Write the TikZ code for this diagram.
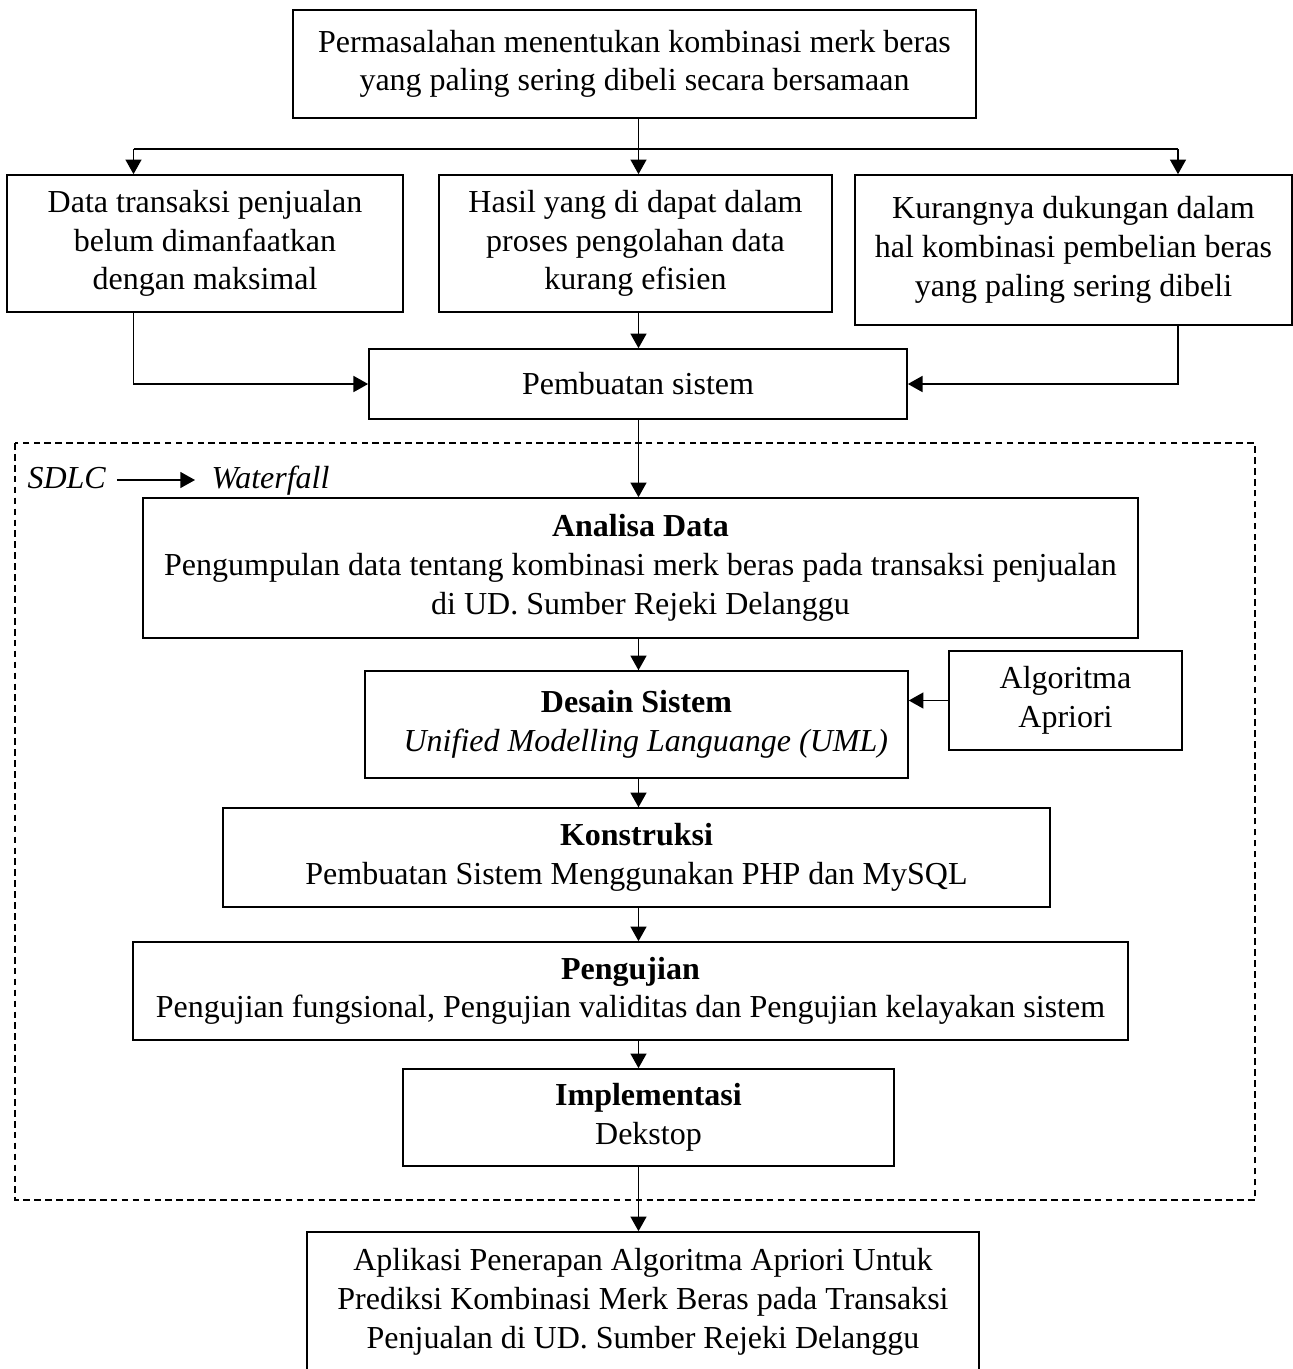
\documentclass[tikz,border=0pt]{standalone}
\usepackage{fontspec}
\setmainfont{Liberation Serif}
\usepackage{tikz}
\usetikzlibrary{arrows.meta, positioning, calc}

\tikzset{
    box/.style={draw, line width=0.6pt, align=center, inner sep=0pt,
        font=\fontsize{12}{14.5}\selectfont},
    arr/.style={-{Triangle[length=5.5pt,width=6pt]}, line width=0.6pt},
    lbl/.style={inner sep=0pt, font=\fontsize{12}{14.5}\selectfont\itshape},
}

\begin{document}
\begin{tikzpicture}[x=0.375pt, y=-0.375pt]
    \useasboundingbox (0,0) rectangle (1293,1369);

    % Problem
    \node[box, minimum width=256.1pt, minimum height=40.5pt] (masalah) at (634.5,64)
        {Permasalahan menentukan kombinasi merk beras\\ yang paling sering dibeli secara bersamaan};

    % Causes
    \node[box, minimum width=148.5pt, minimum height=51.4pt] (data) at (205,243.5)
        {Data transaksi penjualan\\ belum dimanfaatkan\\ dengan maksimal};
    \node[box, minimum width=147.4pt, minimum height=51.4pt] (hasil) at (635.5,243.5)
        {Hasil yang di dapat dalam\\ proses pengolahan data\\ kurang efisien};
    \node[box, minimum width=163.9pt, minimum height=56.25pt] (kurang) at (1073.5,250)
        {Kurangnya dukungan dalam\\ hal kombinasi pembelian beras\\ yang paling sering dibeli};
    \node[box, minimum width=201.8pt, minimum height=26.25pt] (sistem) at (638,384)
        {Pembuatan sistem};

    % Lanes of the connectors
    \coordinate (fork) at (638.5,149);
    \coordinate (laneL) at (133.5,149);
    \coordinate (laneR) at (1178,149);

    \draw[line width=0.6pt] (masalah.south -| fork) -- (fork);
    \draw[line width=0.6pt] (laneL) -- (laneR);
    \draw[arr] (laneL) -- (laneL |- data.north);
    \draw[arr] (fork) -- (fork |- hasil.north);
    \draw[arr] (laneR) -- (laneR |- kurang.north);
    \draw[arr] (hasil.south -| fork) -- (fork |- sistem.north);
    \draw[arr] (laneL |- data.south) -- (laneL |- sistem.west) -- (sistem.west);
    \draw[arr] (laneR |- kurang.south) -- (laneR |- sistem.east) -- (sistem.east);

    % SDLC frame
    \draw[line width=0.6pt, dash pattern=on 2.5pt off 1.6pt] (15,443) rectangle (1255,1200);
    \node[lbl, anchor=base west] (sdlc) at (27,488) {SDLC};
    \node[lbl, anchor=base west] (waterfall) at (211,488) {Waterfall};
    \draw[arr, line width=0.5pt] ([xshift=4pt]sdlc.east |- 0,480) -- ([xshift=-6pt]waterfall.west |- 0,480);

    % Waterfall stages
    \node[box, minimum width=373.1pt, minimum height=52.5pt] (analisa) at (640.5,568)
        {\textbf{Analisa Data}\\ Pengumpulan data tentang kombinasi merk beras pada transaksi penjualan\\ di UD. Sumber Rejeki Delanggu};
    \node[box, minimum width=203.6pt, minimum height=40.1pt] (desain) at (636.5,724.5)
        {\textbf{Desain Sistem}\\ \hspace*{7pt}\textit{Unified Modelling Languange (UML)}};
    \node[box, minimum width=87.4pt, minimum height=37.1pt] (apriori) at (1065.5,700.5)
        {Algoritma\\ Apriori};
    \node[box, minimum width=310.1pt, minimum height=37.1pt] (konstruksi) at (636.5,857.5)
        {\textbf{Konstruksi}\\ Pembuatan Sistem Menggunakan PHP dan MySQL};
    \node[box, minimum width=373.1pt, minimum height=36.75pt] (pengujian) at (630.5,991)
        {\textbf{Pengujian}\\ Pengujian fungsional, Pengujian validitas dan Pengujian kelayakan sistem};
    \node[box, minimum width=184.1pt, minimum height=36.4pt] (implementasi) at (648.5,1117.5)
        {\textbf{Implementasi}\\ Dekstop};

    % Result
    \node[box, minimum width=252pt, minimum height=52.5pt] (aplikasi) at (643,1302)
        {Aplikasi Penerapan Algoritma Apriori Untuk\\ Prediksi Kombinasi Merk Beras pada Transaksi\\ Penjualan di UD. Sumber Rejeki Delanggu};

    \draw[arr] (sistem.south -| fork) -- (fork |- analisa.north);
    \draw[arr] (analisa.south -| fork) -- (fork |- desain.north);
    \draw[arr] (apriori.west) -- (apriori.west -| desain.east);
    \draw[arr] (desain.south -| fork) -- (fork |- konstruksi.north);
    \draw[arr] (konstruksi.south -| fork) -- (fork |- pengujian.north);
    \draw[arr] (pengujian.south -| fork) -- (fork |- implementasi.north);
    \draw[arr] (implementasi.south -| fork) -- (fork |- aplikasi.north);
\end{tikzpicture}
\end{document}
